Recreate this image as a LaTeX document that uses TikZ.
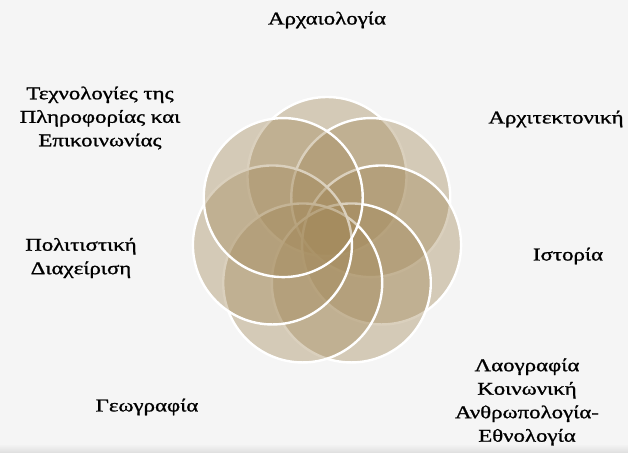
\documentclass[tikz,border=0pt]{standalone}
\usepackage{fontspec}
\setmainfont{Liberation Serif}[FakeStretch=1.27, FakeBold=1.2]
\definecolor{bgc}{HTML}{F5F5F5}
\definecolor{petal}{HTML}{A48A5C}
\tikzset{
  petalc/.style={circle, minimum size=159pt, inner sep=0pt, outer sep=0pt,
    fill=petal, fill opacity=0.4, draw=white, line width=2.4pt},
  lbl/.style={font=\fontsize{18}{23.5}\selectfont, align=center, text=black, inner sep=0pt}
}
\begin{document}
\begin{tikzpicture}[x=1pt,y=-1pt]
\useasboundingbox (0,0) rectangle (628,452);
\fill[bgc] (0,0) rectangle (628,452);
\shade[top color=bgc, bottom color=black!12] (0,444) rectangle (628,452);
\foreach \i/\a in {1/90, 2/38.571, 3/-12.857, 4/-64.286, 5/-115.714, 6/-167.143, 7/-218.571}{
  \node[petalc] (c\i) at ({327+56*cos(\a)}, {232.5-56*sin(\a)}) {};
}
\node[lbl] (t1) at (327,20) {Αρχαιολογία};
\node[lbl] (t2) at (556,119) {Αρχιτεκτονική};
\node[lbl] (t3) at (568,256) {Ιστορία};
\node[lbl] (t4) at (527,402) {Λαογραφία\\Κοινωνική\\Ανθρωπολογία-\\Εθνολογία};
\node[lbl] (t5) at (147,407) {Γεωγραφία};
\node[lbl] (t6) at (81,258) {Πολιτιστική\\Διαχείριση};
\node[lbl] (t7) at (100,118) {Τεχνολογίες της\\Πληροφορίας και\\Επικοινωνίας};
\end{tikzpicture}
\end{document}
